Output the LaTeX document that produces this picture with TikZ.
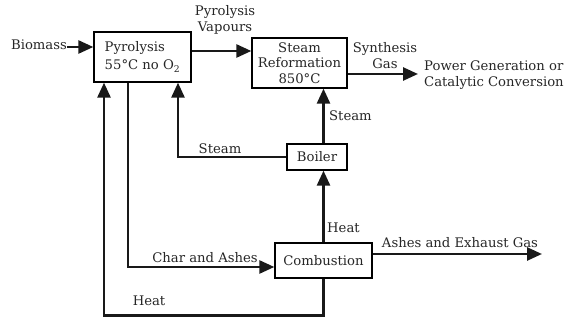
\documentclass[tikz,border=0pt]{standalone}
\usepackage{fontspec}
\setmainfont{DejaVu Serif}
\usetikzlibrary{arrows.meta}

\begin{document}
\begin{tikzpicture}[
    x={(1pt,0pt)}, y={(0pt,-1pt)},
    line join=miter, line cap=butt,
    every node/.style={font=\fontsize{13.2}{16}\selectfont,inner sep=0pt,text=black!85},
    block/.style={draw=black,line width=1.3pt,fill=white},
    flow/.style={draw=black!90,line width=2.6pt,-{Triangle[length=15pt,width=13pt]}}
]
    \useasboundingbox (0,0) rectangle (568,320);

    % Process units, placed at pixel positions of the sketch.
    \node[block,minimum width=97pt,minimum height=50pt,align=left,font=\fontsize{13.2}{18}\selectfont] (pyro) at (142.5,57)
        {Pyrolysis\\55°C no O\textsubscript{2}};
    \node[block,minimum width=95pt,minimum height=50pt,align=center,font=\fontsize{13.2}{15.5}\selectfont] (reform) at (299.5,63)
        {Steam\\Reformation\\850°C};
    \node[block,minimum width=60pt,minimum height=26pt] (boiler) at (317,157) {Boiler};
    \node[block,minimum width=97pt,minimum height=35pt] (comb) at (323.5,260.5) {Combustion};

    \node (biomass) at (39,45) {Biomass};
    \coordinate (syngas) at (418,74);
    \coordinate (exhaust) at (542,254);

    % Main line: biomass through to synthesis gas.
    \draw[flow] ([yshift=-2pt]biomass.east) -- ([yshift=10pt]pyro.west);
    \draw[flow] ([yshift=6pt]pyro.east) -- ([yshift=6pt]pyro.east -| reform.west);
    \draw[flow] ([yshift=-11pt]reform.east) -- (syngas);

    % Steam and heat recycle loops.
    \draw[flow] (boiler.north -| comb.north) -- (comb.north |- reform.south);
    \draw[flow] (boiler.west) -| ([xshift=35.5pt]pyro.south);
    \draw[flow] (comb.north) -- (comb.north |- boiler.south);
    \draw[flow] ([xshift=-14.5pt]pyro.south) |- ([yshift=-6.5pt]comb.west);
    \draw[flow] (comb.south) -- ++(0,37) -| ([xshift=-38.5pt]pyro.south);
    \draw[flow] ([yshift=6.5pt]comb.east) -- (exhaust);

    % Stream labels.
    \node[align=center] at (225,20) {Pyrolysis\\Vapours};
    \node[align=center] at (385,56) {Synthesis\\Gas};
    \node[align=left,anchor=west] at (424,75) {Power Generation or\\Catalytic Conversion};
    \node[anchor=west] at (329,116) {Steam};
    \node at (220,149) {Steam};
    \node[anchor=west] at (327,228) {Heat};
    \node at (460,243) {Ashes and Exhaust Gas};
    \node at (205,258) {Char and Ashes};
    \node at (149,301) {Heat};
\end{tikzpicture}
\end{document}
